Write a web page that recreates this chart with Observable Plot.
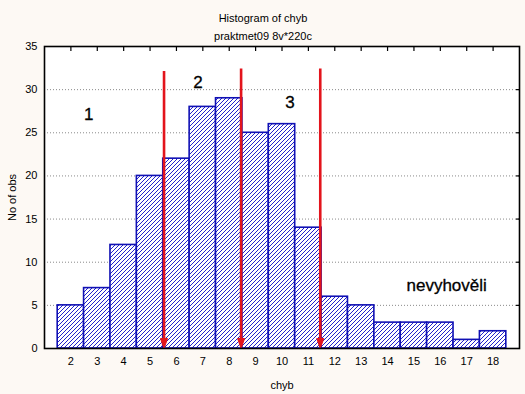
<!DOCTYPE html>
<html><head><meta charset="utf-8">
<script src="https://cdn.jsdelivr.net/npm/d3@7"></script>
<script src="https://cdn.jsdelivr.net/npm/@observablehq/plot@0.6"></script>
<style>
body{margin:0;background:#fdf9f4;}
#chart svg{display:block;background:#fdf9f4;}
</style>
</head><body><div id="chart"></div>
<script>
const bins = [2,3,4,5,6,7,8,9,10,11,12,13,14,15,16,17,18];
const counts = [5,7,12,20,22,28,29,25,26,14,6,5,3,3,3,1,2];
const xTicks = [2,3,4,5,6,7,8,9,10,11,12,13,14,15,16,17,18];
const yTicks = [0,5,10,15,20,25,30,35];
const gridValues = [5,10,15,20,25,30];
const arrowX = [5.53, 8.45, 11.45];
const arrowTop = [32.1, 32.4, 32.4];
const groupLabels = ["1","2","3","nevyhověli"];
const groupX = [2.68, 6.82, 10.3, 16.24];
const groupY = [27.1, 30.86, 28.5, 7.3];
const titleLines = ["Histogram of chyb", "praktmet09 8v*220c"];
const xLabel = "chyb";
const yLabel = "No of obs";

const bars = bins.map((b, i) => ({x: b, n: counts[i]}));
const arrows = arrowX.map((x, i) => ({x, top: arrowTop[i]}));
const labels = groupLabels.map((t, i) => ({t, x: groupX[i], y: groupY[i]}));

const arrowHead = {
  draw(ctx) {
    ctx.moveTo(-3.5, -10);
    ctx.lineTo(3.5, -10);
    ctx.lineTo(0, 0);
    ctx.closePath();
  }
};

const red = "#e3141c";
const blue = "#1010b4";

const chart = Plot.plot({
  width: 525,
  height: 394,
  marginLeft: 44,
  marginRight: 6,
  marginTop: 46,
  marginBottom: 46,
  style: {fontFamily: "'Liberation Sans', Arial, sans-serif", fontSize: "11px", color: "#000", background: "#fdf9f4", overflow: "visible"},
  x: {domain: [1, 19], ticks: xTicks, tickSize: 0, tickPadding: 9, label: xLabel, labelAnchor: "center", labelOffset: 40},
  y: {domain: [0, 35], ticks: yTicks, tickSize: 0, tickPadding: 7, label: yLabel, labelAnchor: "center", labelOffset: 36},
  marks: [
    Plot.frame({fill: "white", stroke: "none"}),
    Plot.ruleY(gridValues, {stroke: "#8a8a8a", strokeDasharray: "1,2", strokeWidth: 1}),
    Plot.rectY(bars, {x1: d => d.x - 0.5, x2: d => d.x + 0.5, y: "n", fill: "url(#hatch)", stroke: blue, strokeWidth: 1.6}),
    Plot.ruleX(arrows, {x: "x", y1: 0.9, y2: "top", stroke: red, strokeWidth: 2.6}),
    Plot.dot(arrows, {x: "x", y: 0, symbol: arrowHead, fill: red, stroke: red, strokeWidth: 1}),
    Plot.text(labels, {x: "x", y: "y", text: "t", fontSize: 17, fill: "#000", stroke: "#000", strokeWidth: 0.3}),
    Plot.axisX({anchor: "top", ticks: xTicks, tickSize: -4, tickFormat: () => "", label: null, strokeWidth: 1.2}),
    Plot.axisY({anchor: "right", ticks: gridValues, tickSize: -4, tickFormat: () => "", label: null, strokeWidth: 1.2}),
    Plot.axisX({anchor: "bottom", ticks: xTicks, tickSize: 0, tickPadding: 9, label: xLabel, labelAnchor: "center", labelOffset: 40, labelArrow: "none"}),
    Plot.axisY({anchor: "left", ticks: yTicks, tickSize: 0, tickPadding: 7, label: yLabel, labelAnchor: "center", labelOffset: 36, labelArrow: "none"}),
    Plot.frame({stroke: "#000", strokeWidth: 1.6}),
    Plot.text([titleLines[0]], {frameAnchor: "top", dx: -19, dy: -32, fontSize: 11}),
    Plot.text([titleLines[1]], {frameAnchor: "top", dx: -19, dy: -14, fontSize: 11})
  ]
});

const svg = d3.select(chart);
const defs = svg.insert("defs", ":first-child");
const pat = defs.append("pattern").attr("id", "hatch").attr("patternUnits", "userSpaceOnUse")
  .attr("width", 4).attr("height", 4);
pat.append("rect").attr("width", 4).attr("height", 4).attr("fill", "white");
pat.append("path").attr("d", "M-1,1 L1,-1 M0,4 L4,0 M3,5 L5,3")
  .attr("stroke", "#2222cc").attr("stroke-width", 1).attr("shape-rendering", "crispEdges");

document.getElementById("chart").appendChild(chart);
</script>
</body></html>
